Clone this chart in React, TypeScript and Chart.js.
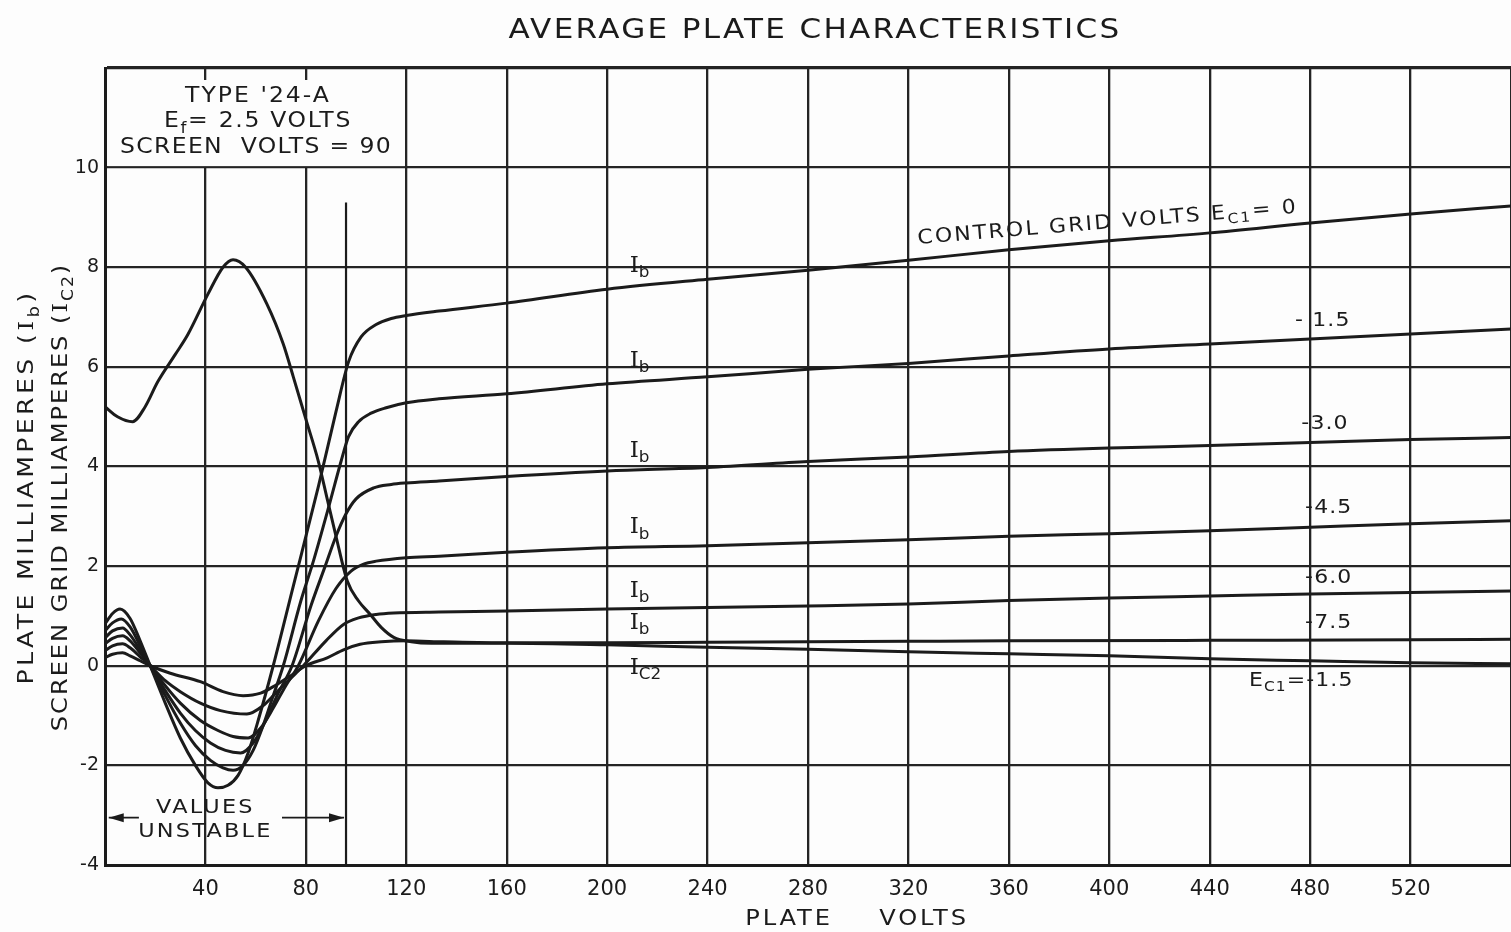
import React, { useEffect, useRef } from 'react';
import { Chart, registerables } from 'chart.js';

Chart.register(...registerables);

// ---------- data (plate volts, milliamperes) ----------
const ec0V = [0, 3, 6, 10, 14, 18, 24, 30, 36, 41, 45, 49, 53, 57, 61, 67, 75, 85, 92, 97, 102, 108, 114, 120, 133, 160, 200, 240, 280, 320, 360, 400, 440, 480, 520, 560];
const ec0I = [0.84, 1.05, 1.14, 0.95, 0.5, 0, -0.75, -1.45, -2.0, -2.35, -2.45, -2.4, -2.2, -1.75, -1.1, 0, 1.6, 3.6, 5.1, 6.1, 6.6, 6.85, 6.97, 7.03, 7.12, 7.28, 7.56, 7.76, 7.94, 8.14, 8.35, 8.53, 8.69, 8.89, 9.07, 9.23];

const ec15V = [0, 3, 6.5, 10, 14, 18, 24, 30, 36, 42, 47, 51, 55, 59, 63, 67, 71, 78, 83, 89.7, 94, 97, 101, 106, 112, 120, 133, 160, 200, 240, 280, 320, 360, 400, 440, 480, 520, 560];
const ec15I = [0.7, 0.86, 0.94, 0.78, 0.4, 0, -0.6, -1.15, -1.6, -1.9, -2.05, -2.1, -2.0, -1.7, -1.2, -0.6, 0, 1.3, 2.1, 3.3, 4.1, 4.6, 4.9, 5.07, 5.18, 5.28, 5.36, 5.46, 5.66, 5.8, 5.95, 6.07, 6.22, 6.36, 6.46, 6.56, 6.66, 6.76];

const ec30V = [0, 3, 7, 10, 14, 18, 24, 30, 36, 42, 48, 54, 59, 64, 69, 74.5, 82, 87.7, 92, 96, 100, 107, 114, 120, 133, 160, 200, 240, 280, 320, 360, 400, 440, 480, 520, 560];
const ec30I = [0.56, 0.7, 0.76, 0.62, 0.32, 0, -0.5, -0.95, -1.3, -1.55, -1.7, -1.75, -1.55, -1.1, -0.55, 0, 1.2, 2.0, 2.6, 3.05, 3.35, 3.57, 3.64, 3.67, 3.71, 3.8, 3.91, 3.98, 4.1, 4.19, 4.3, 4.37, 4.42, 4.48, 4.54, 4.58];

const ec45V = [0, 3, 7, 10, 14, 18, 24, 30, 38, 45, 51, 57, 62, 67, 72, 77, 85, 92, 98, 103, 108, 120, 133, 160, 200, 240, 280, 320, 360, 400, 440, 480, 520, 560];
const ec45I = [0.44, 0.55, 0.6, 0.5, 0.26, 0, -0.4, -0.75, -1.1, -1.3, -1.42, -1.45, -1.25, -0.85, -0.4, 0, 0.9, 1.55, 1.9, 2.04, 2.1, 2.17, 2.2, 2.28, 2.37, 2.41, 2.47, 2.53, 2.6, 2.65, 2.71, 2.78, 2.85, 2.91];

const ec60V = [0, 3, 7, 10, 14, 18, 24, 30, 38, 46, 56.5, 63, 68, 74, 79, 88, 95, 101, 108, 115, 133, 160, 200, 240, 280, 320, 360, 400, 440, 480, 520, 560];
const ec60I = [0.3, 0.4, 0.44, 0.36, 0.18, 0, -0.3, -0.52, -0.75, -0.9, -0.97, -0.8, -0.55, -0.25, 0, 0.5, 0.83, 0.96, 1.03, 1.06, 1.08, 1.1, 1.14, 1.17, 1.2, 1.24, 1.31, 1.36, 1.4, 1.44, 1.47, 1.5];

const ec75V = [0, 3, 7, 10, 14, 18, 26, 38, 47, 55, 62, 68, 74, 80, 88.5, 95, 101.6, 110, 120, 135, 160, 200, 240, 280, 320, 360, 440, 520, 560];
const ec75I = [0.16, 0.23, 0.26, 0.2, 0.1, 0, -0.15, -0.32, -0.52, -0.6, -0.55, -0.39, -0.2, 0, 0.16, 0.32, 0.43, 0.48, 0.5, 0.48, 0.46, 0.46, 0.47, 0.48, 0.49, 0.5, 0.51, 0.52, 0.53];

const ic2V = [0, 5, 11, 16, 21, 28, 33, 41, 47, 51, 56, 64.5, 71, 75, 80, 85, 88.5, 92, 96.5, 101, 105.5, 110, 115, 122, 130, 145, 160, 200, 240, 280, 320, 360, 400, 440, 480, 520, 560];
const ic2I = [5.2, 5.0, 4.9, 5.2, 5.7, 6.25, 6.65, 7.46, 8.0, 8.15, 8.0, 7.26, 6.46, 5.8, 4.95, 4.1, 3.35, 2.6, 1.7, 1.3, 1.04, 0.77, 0.57, 0.48, 0.45, 0.45, 0.45, 0.42, 0.37, 0.33, 0.28, 0.24, 0.2, 0.14, 0.1, 0.06, 0.04];

// axes
const xMin = 0, xMax = 560, xStep = 40;
const yMin = -4, yMax = 12, yStep = 2;
const xHiddenTicks = [0, 560];
const yHiddenTicks = [12];

// annotation anchors (data units)
const unstableLimitV = 96;
const unstableMarkerTop = 9.3;
const unstableArrowI = -3.05;
const ibLabelV = 209;
const ibLabelI = [8.02, 6.12, 4.31, 2.77, 1.5, 0.86];
const ic2LabelI = -0.05;
const gridLabels = ['- 1.5', '-3.0', '-4.5', '-6.0', '-7.5'];
const gridLabelV = [474, 476.5, 478, 478, 478];
const gridLabelI = [6.92, 4.85, 3.17, 1.77, 0.86];

const INK = '#1b1b1b';
const GRID = '#242424';
const PAPER = '#fdfdfd';
const FONT = '"DejaVu Sans", sans-serif';
const SERIF = '"DejaVu Serif", serif';

type Seg = { t: string; sub?: boolean; serif?: boolean };
type TOpt = { size: number; align?: 'left' | 'center' | 'right'; rot?: number; sx?: number; ls?: number };

function drawRich(ctx: CanvasRenderingContext2D, segs: Seg[], x: number, y: number, o: TOpt) {
  const size = o.size;
  const sx = o.sx ?? 1;
  const ls = o.ls ?? 0;
  ctx.save();
  ctx.translate(x, y);
  if (o.rot) ctx.rotate(o.rot);
  ctx.scale(sx, 1);
  ctx.textBaseline = 'middle';
  ctx.textAlign = 'left';
  ctx.fillStyle = INK;
  (ctx as any).letterSpacing = ls + 'px';
  const fontFor = (s: Seg) => `${s.sub ? Math.round(size * 0.72) : size}px ${s.serif ? SERIF : FONT}`;
  const widths: number[] = [];
  let total = 0;
  for (const s of segs) {
    ctx.font = fontFor(s);
    const w = ctx.measureText(s.t).width;
    widths.push(w);
    total += w;
  }
  let cx = o.align === 'center' ? -total / 2 : o.align === 'right' ? -total : 0;
  segs.forEach((s, i) => {
    ctx.font = fontFor(s);
    ctx.fillText(s.t, cx, s.sub ? size * 0.32 : 0);
    cx += widths[i];
  });
  ctx.restore();
}

function arrowHead(ctx: CanvasRenderingContext2D, x: number, y: number, dir: number) {
  ctx.beginPath();
  ctx.moveTo(x, y);
  ctx.lineTo(x - dir * 15, y - 4.5);
  ctx.lineTo(x - dir * 15, y + 4.5);
  ctx.closePath();
  ctx.fill();
}

const pts = (xs: number[], ys: number[]) => xs.map((x, i) => ({ x, y: ys[i] }));

const decorPlugin = {
  id: 'decor',
  beforeDraw(chart: any) {
    const { ctx, width, height } = chart;
    ctx.save();
    ctx.fillStyle = PAPER;
    ctx.fillRect(0, 0, width, height);
    ctx.restore();
  },
  beforeDatasetsDraw(chart: any) {
    const { ctx } = chart;
    const xs = chart.scales.x;
    const ys = chart.scales.y;
    const px = (v: number) => xs.getPixelForValue(v);
    const py = (v: number) => ys.getPixelForValue(v);
    ctx.save();
    // white label box in the top-left cell block
    ctx.fillStyle = PAPER;
    const bx0 = px(0) + 2.5, bx1 = px(120) - 1.5;
    const by0 = py(12) + 12, by1 = py(10) - 1.5;
    ctx.fillRect(bx0, by0, bx1 - bx0, by1 - by0);
    // unstable limit marker
    ctx.strokeStyle = INK;
    ctx.lineWidth = 2.2;
    ctx.beginPath();
    ctx.moveTo(px(unstableLimitV), py(unstableMarkerTop));
    ctx.lineTo(px(unstableLimitV), py(yMin));
    ctx.stroke();
    // arrows
    const ay = py(unstableArrowI);
    ctx.lineWidth = 1.7;
    ctx.beginPath();
    ctx.moveTo(px(1.5), ay);
    ctx.lineTo(px(13.5), ay);
    ctx.moveTo(px(70.5), ay);
    ctx.lineTo(px(unstableLimitV) - 2, ay);
    ctx.stroke();
    ctx.fillStyle = INK;
    arrowHead(ctx, px(1.5), ay, -1);
    arrowHead(ctx, px(unstableLimitV) - 2, ay, 1);
    ctx.restore();
  },
  afterDraw(chart: any) {
    const { ctx } = chart;
    const xs = chart.scales.x;
    const ys = chart.scales.y;
    const px = (v: number) => xs.getPixelForValue(v);
    const py = (v: number) => ys.getPixelForValue(v);

    // title
    drawRich(ctx, [{ t: 'AVERAGE PLATE CHARACTERISTICS' }], 815, 31, { size: 27, align: 'center', sx: 1.15, ls: 2 });

    // box text
    drawRich(ctx, [{ t: "TYPE '24-A" }], 258, 97, { size: 21, align: 'center', sx: 1.12, ls: 1.8 });
    drawRich(ctx, [{ t: 'E' }, { t: 'f', sub: true }, { t: '= 2.5 VOLTS' }], 258, 122, { size: 21, align: 'center', sx: 1.12, ls: 1.5 });
    drawRich(ctx, [{ t: 'SCREEN  VOLTS = 90' }], 256, 148, { size: 21, align: 'center', sx: 1.12, ls: 1.2 });

    // axis titles
    drawRich(ctx, [{ t: 'PLATE' }], 789, 920, { size: 21, align: 'center', sx: 1.15, ls: 2.5 });
    drawRich(ctx, [{ t: 'VOLTS' }], 924, 920, { size: 21, align: 'center', sx: 1.15, ls: 2.5 });
    drawRich(ctx, [{ t: 'PLATE MILLIAMPERES (' }, { t: 'I', serif: true }, { t: 'b', sub: true }, { t: ')' }], 28, 487, { size: 21, align: 'center', rot: -Math.PI / 2, sx: 1.2, ls: 2.8 });
    drawRich(ctx, [{ t: 'SCREEN GRID MILLIAMPERES (' }, { t: 'I', serif: true }, { t: 'C2', sub: true }, { t: ')' }], 62, 497, { size: 21, align: 'center', rot: -Math.PI / 2, sx: 1.15, ls: 1.7 });

    // unstable text
    drawRich(ctx, [{ t: 'VALUES' }], px(40), 808, { size: 20, align: 'center', sx: 1.12, ls: 2 });
    drawRich(ctx, [{ t: 'UNSTABLE' }], px(40), 832, { size: 20, align: 'center', sx: 1.12, ls: 2 });

    // Ib labels
    ibLabelI.forEach((v) => {
      drawRich(ctx, [{ t: 'I', serif: true }, { t: 'b', sub: true }], px(ibLabelV), py(v), { size: 22, align: 'left', sx: 1.05 });
    });
    drawRich(ctx, [{ t: 'I', serif: true }, { t: 'C2', sub: true }], px(ibLabelV), py(ic2LabelI), { size: 22, align: 'left', sx: 1.05 });

    // control grid labels
    drawRich(ctx, [{ t: 'CONTROL GRID VOLTS E' }, { t: 'C1', sub: true }, { t: '= 0' }], px(323.6), py(8.57), { size: 20, align: 'left', rot: (-4.7 * Math.PI) / 180, sx: 1.1, ls: 2 });
    gridLabels.forEach((t, i) => {
      drawRich(ctx, [{ t }], px(gridLabelV[i]), py(gridLabelI[i]), { size: 20, align: 'left', sx: 1.1, ls: 1 });
    });
    drawRich(ctx, [{ t: 'E' }, { t: 'C1', sub: true }, { t: '=-1.5' }], px(455.6), py(-0.3), { size: 20, align: 'left', sx: 1.1, ls: 1 });
  },
};

export default function App() {
  const ref = useRef<HTMLCanvasElement | null>(null);

  useEffect(() => {
    if (!ref.current) return;
    const line = (data: { x: number; y: number }[]) => ({
      data,
      borderColor: INK,
      borderWidth: 3,
      pointRadius: 0,
      fill: false,
      cubicInterpolationMode: 'monotone' as const,
    });
    const chart = new Chart(ref.current, {
      type: 'line',
      data: {
        datasets: [
          line(pts(ec0V, ec0I)),
          line(pts(ec15V, ec15I)),
          line(pts(ec30V, ec30I)),
          line(pts(ec45V, ec45I)),
          line(pts(ec60V, ec60I)),
          line(pts(ec75V, ec75I)),
          line(pts(ic2V, ic2I)),
        ],
      },
      options: {
        animation: false,
        responsive: true,
        maintainAspectRatio: false,
        devicePixelRatio: 1,
        layout: { padding: { left: 0, top: 68, right: 0, bottom: 0 } },
        plugins: { legend: { display: false }, tooltip: { enabled: false }, title: { display: false } },
        events: [],
        scales: {
          x: {
            type: 'linear',
            min: xMin,
            max: xMax,
            afterFit: (s: any) => {
              s.height = 67;
              s.paddingLeft = 0;
              s.paddingRight = 0;
            },
            ticks: {
              stepSize: xStep,
              autoSkip: false,
              maxRotation: 0,
              padding: 12,
              color: INK,
              font: { family: FONT, size: 21 },
              callback: (v: any) => (xHiddenTicks.includes(Number(v)) ? '' : String(v)),
            },
            grid: { color: GRID, lineWidth: 2.3, drawTicks: false },
            border: { display: true, color: INK, width: 3 },
          },
          y: {
            type: 'linear',
            min: yMin,
            max: yMax,
            afterFit: (s: any) => {
              s.width = 105;
              s.paddingTop = 0;
              s.paddingBottom = 0;
            },
            ticks: {
              stepSize: yStep,
              padding: 6,
              color: INK,
              font: { family: FONT, size: 19 },
              callback: (v: any) => (yHiddenTicks.includes(Number(v)) ? '' : String(v)),
            },
            grid: {
              color: GRID,
              lineWidth: (c: any) => (c.tick && c.tick.value === yMax ? 3.2 : 2.3),
              drawTicks: false,
            },
            border: { display: true, color: INK, width: 3 },
          },
        },
      },
      plugins: [decorPlugin],
    } as any);
    return () => chart.destroy();
  }, []);

  return (
    <div style={{ position: 'absolute', left: 0, top: 0, width: 1511, height: 932, background: PAPER }}>
      <canvas ref={ref} />
    </div>
  );
}
